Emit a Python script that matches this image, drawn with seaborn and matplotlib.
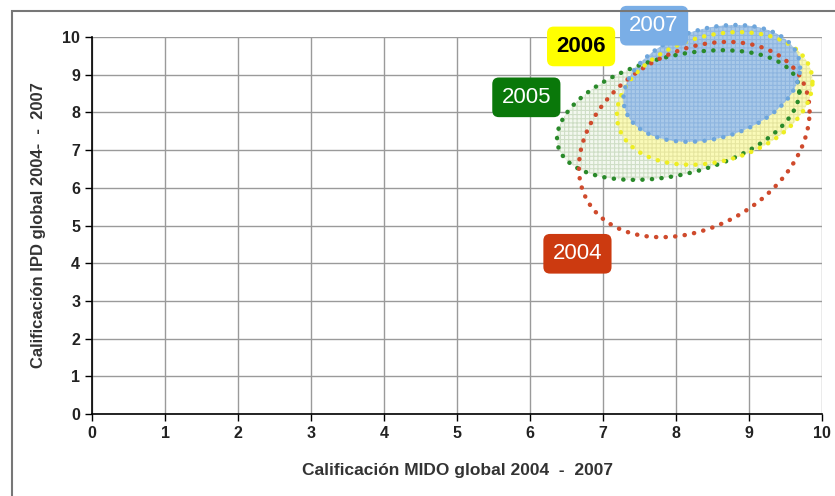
import numpy as np
import matplotlib
matplotlib.use("Agg")
import matplotlib.pyplot as plt
from matplotlib.patches import Rectangle
import seaborn as sns

# ellipse per year: x-centre, y-centre, x half-extent, y half-extent, phase (tilt)
years = ["2004", "2005", "2006", "2007"]
x_centre = [8.25, 8.03, 8.53, 8.49]
y_centre = [7.28, 7.93, 8.37, 8.77]
x_half = [1.58, 1.66, 1.34, 1.21]
y_half = [2.59, 1.72, 1.76, 1.55]
phase = [1.28, 1.2, 1.32, 1.3]

# label positions (data coords)
label_x = [6.65, 5.95, 6.7, 7.7]
label_y = [4.25, 8.4, 9.75, 10.3]

line_col = {"2004": "#cf4a2c", "2005": "#2a8a2a", "2006": "#eeee22", "2007": "#6ea6dc"}
fill_col = {"2005": "#f3f8ef", "2006": "#fafab8", "2007": "#a9c9e9"}
hatch_col = {"2005": "#cfdec6", "2006": "#e6e6a0", "2007": "#8fb6e0"}
box_col = {"2004": "#cc3a10", "2005": "#0a780a", "2006": "#ffff00", "2007": "#7aaee6"}
txt_col = {"2004": "white", "2005": "white", "2006": "black", "2007": "white"}

sns.set_style("white")
plt.rcParams["font.family"] = ["Liberation Sans", "DejaVu Sans"]
plt.rcParams["hatch.linewidth"] = 0.8

fig = plt.figure(figsize=(8.35, 4.96), dpi=100)
ax = fig.add_axes([92 / 835, 82 / 496, 730 / 835, 377 / 496])

t = np.linspace(0, 2 * np.pi, 400)
outlines = {}
for i, yr in enumerate(years):
    ex = x_centre[i] + x_half[i] * np.cos(t)
    ey = y_centre[i] + y_half[i] * np.cos(t - phase[i])
    outlines[yr] = (ex, ey)

# fills
for yr in ["2005", "2006", "2007"]:
    ex, ey = outlines[yr]
    ax.fill(ex, ey, facecolor=fill_col[yr], edgecolor=hatch_col[yr],
            hatch="++++", zorder=2, clip_on=False, lw=0)

dot = (0, (0.05, 2.1))
for yr in ["2005", "2004", "2006", "2007"]:
    ex, ey = outlines[yr]
    sns.lineplot(x=ex, y=ey, sort=False, estimator=None, ax=ax,
                 color=line_col[yr], lw=3.2, linestyle=dot,
                 dash_capstyle="round", zorder=3, clip_on=False)

for i, yr in enumerate(years):
    ax.text(label_x[i], label_y[i], yr, fontsize=16, color=txt_col[yr],
            ha="center", va="center", zorder=6, clip_on=False,
            fontweight="bold" if yr == "2006" else "normal",
            bbox=dict(boxstyle="round,pad=0.42,rounding_size=0.3",
                      fc=box_col[yr], ec="none"))

ax.set_xlim(0, 10)
ax.set_ylim(0, 10)
ax.set_xticks(range(0, 11))
ax.set_yticks(range(0, 11))
ax.grid(True, color="#9a9a9a", lw=1)
ax.set_axisbelow(True)
for s in ["top", "right"]:
    ax.spines[s].set_visible(False)
for s in ["left", "bottom"]:
    ax.spines[s].set_color("black")
    ax.spines[s].set_linewidth(1.2)
ax.tick_params(axis="both", direction="out", length=5, width=1, color="black",
               labelsize=11.5, labelcolor="#222222", left=True, bottom=True)
for lab in ax.get_xticklabels() + ax.get_yticklabels():
    lab.set_fontweight("bold")

ax.set_xlabel("Calificación MIDO global 2004  -  2007", fontsize=12.5,
              fontweight="bold", color="#333333", labelpad=16)
ax.set_ylabel("Calificación IPD global 2004-  -  2007", fontsize=12,
              fontweight="bold", color="#333333", labelpad=12)

fig.patches.append(Rectangle((12 / 835, -0.1), 1.0, (496 - 11) / 496 + 0.1,
                             transform=fig.transFigure, fill=False,
                             ec="#777777", lw=1.5, zorder=0))

fig.savefig("out.png", dpi=100)
